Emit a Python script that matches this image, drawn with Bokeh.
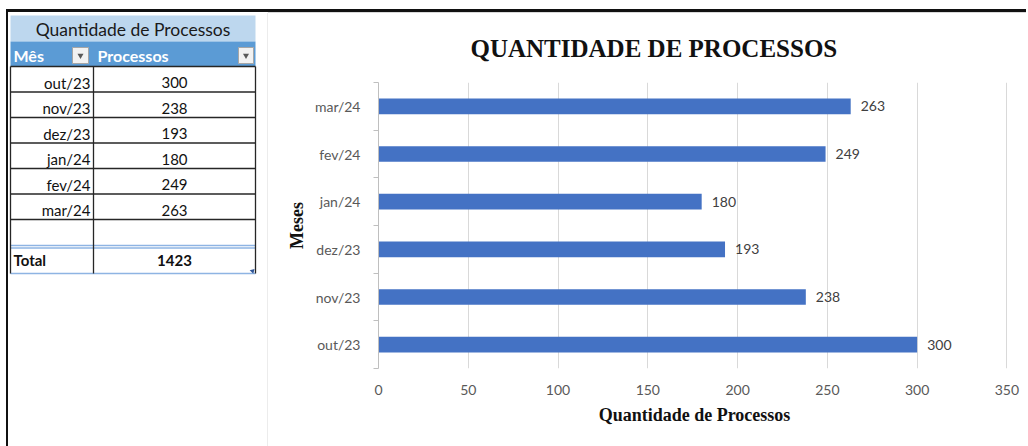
from bokeh.plotting import figure
from bokeh.models import Range1d, FixedTicker, ColumnDataSource
from bokeh.layouts import row
from bokeh.core.properties import value
from bokeh.embed import file_html
from bokeh.resources import INLINE

# ---- data ----
meses = ["out/23", "nov/23", "dez/23", "jan/24", "fev/24", "mar/24"]
processos = [300, 238, 193, 180, 249, 263]
titulo = "QUANTIDADE DE PROCESSOS"
titulo_tabela = "Quantidade de Processos"
cab_mes = "Mês"
cab_proc = "Processos"
rotulo_total = "Total"
eixo_x = "Quantidade de Processos"
eixo_y = "Meses"
ticks_x = [0, 50, 100, 150, 200, 250, 300, 350]

total = sum(processos)

# ---- table ----
tab = figure(width=260, height=434, x_range=Range1d(8, 268), y_range=Range1d(446, 12),
             x_axis_location=None, y_axis_location=None, min_border=0, title=None,
             outline_line_color=None, toolbar_location=None, output_backend="svg",
             sizing_mode="fixed")
tab.grid.visible = False

L, M, R = 10, 93, 255
row_h = 25.5
first_top = 66
n = len(meses)

tab.segment(x0=267.5, y0=12, x1=267.5, y1=446, line_color="#D9D9D9", line_width=1)

# title band and header
tab.quad(left=L, right=R, top=15, bottom=41, fill_color="#BDD7EE", line_color=None)
tab.quad(left=L, right=R, top=41, bottom=first_top, fill_color="#5B9BD5", line_color=None)
tab.text(x=[(L + R) / 2], y=[29], text=[titulo_tabela], text_align="center",
         text_baseline="middle", text_font=value("Lato"), text_font_size="17.5px",
         text_color="#1a1a1a")
tab.text(x=[L + 3, M + 4], y=[54.5, 54.5], text=[cab_mes, cab_proc], text_align="left",
         text_baseline="middle", text_font=value("Lato"), text_font_size="16px",
         text_font_style="bold", text_color="#FFFFFF")
# dropdown buttons
tab.quad(left=[72, 238], right=[88, 253], top=[47, 47], bottom=[63, 63],
         fill_color="#F2F2F2", line_color="#A6A6A6", line_width=1)
tab.scatter(x=[80, 245.5], y=[55, 55], marker="inverted_triangle", size=6,
            fill_color="#595959", line_color=None)

# data rows (+ one empty row before the total)
tops = [first_top + row_h * i for i in range(n + 2)]
src = ColumnDataSource(dict(m=meses, v=[str(x) for x in processos],
                            y=[t + 16 for t in tops[:n]]))
tab.text(x=M - 3, y="y", text="m", source=src, text_align="right", text_baseline="middle",
         text_font=value("Lato"), text_font_size="15px", text_color="#111111")
tab.text(x=(M + R) / 2, y="y", text="v", source=src, text_align="center",
         text_baseline="middle", text_font=value("Lato"), text_font_size="15px",
         text_color="#111111")

bottom_total = 273
total_top = tops[n + 1]
tab.segment(x0=L, x1=R, y0=tops[:-1], y1=tops[:-1], line_color="#262626", line_width=1.3)
tab.segment(x0=[L, L], x1=[R, R], y0=[total_top + 0.5, total_top + 3],
            y1=[total_top + 0.5, total_top + 3], line_color="#8EB4E3", line_width=1.3)
tab.segment(x0=L, x1=R, y0=bottom_total, y1=bottom_total, line_color="#8EB4E3", line_width=1.3)
tab.segment(x0=[L, M, R], x1=[L, M, R], y0=first_top, y1=bottom_total,
            line_color="#262626", line_width=1.3)
tab.scatter(x=[252], y=[270.5], marker="triangle", angle=-0.785, size=5,
            fill_color="#2F5597", line_color=None)
tab.text(x=[L + 3], y=[total_top + 15], text=[rotulo_total], text_align="left",
         text_baseline="middle", text_font=value("Lato"), text_font_size="15px",
         text_font_style="bold", text_color="#111111")
tab.text(x=[(M + R) / 2], y=[total_top + 15], text=[str(total)], text_align="center",
         text_baseline="middle", text_font=value("Lato"), text_font_size="15px",
         text_font_style="bold", text_color="#111111")

# ---- chart ----
pos = [i + 0.5 for i in range(n)]
csrc = ColumnDataSource(dict(pos=pos, v=processos, lbl=[str(x) for x in processos]))

p = figure(width=758, height=433, x_range=Range1d(0, 352), y_range=Range1d(0, n),
           min_border_left=110, min_border_right=16, min_border_top=65, min_border_bottom=78,
           outline_line_color=None, toolbar_location=None, output_backend="svg",
           sizing_mode="fixed", styles={"border-top": "1px solid #D9D9D9"})

for fig in (tab, p):
    if "frame_align" in fig.properties():
        fig.frame_align = False

p.hbar(y="pos", right="v", left=0, height=0.33, source=csrc,
       fill_color="#4472C4", line_color=None)
p.text(x="v", y="pos", text="lbl", source=csrc, x_offset=10, text_baseline="middle",
       text_font=value("Lato"), text_font_size="14px", text_color="#404040")

p.ygrid.visible = False
p.xgrid.ticker = FixedTicker(ticks=ticks_x)
p.xgrid.grid_line_color = "#D9D9D9"
p.xgrid.grid_line_width = 1

xa = p.xaxis[0]
xa.ticker = FixedTicker(ticks=ticks_x)
xa.axis_line_color = None
xa.major_tick_line_color = None
xa.minor_tick_line_color = None
xa.major_label_standoff = 10
xa.major_label_text_font = "Lato"
xa.major_label_text_font_size = "14px"
xa.major_label_text_color = "#595959"
xa.axis_label = eixo_x
xa.axis_label_text_font = "Liberation Serif"
xa.axis_label_text_font_size = "18px"
xa.axis_label_text_font_style = "bold"
xa.axis_label_text_color = "#111111"
xa.axis_label_standoff = 7

ya = p.yaxis[0]
ya.ticker = FixedTicker(ticks=pos, minor_ticks=list(range(n + 1)))
ya.major_label_overrides = {pp: m for pp, m in zip(pos, meses)}
ya.axis_line_color = "#BFBFBF"
ya.major_tick_line_color = None
ya.minor_tick_line_color = "#BFBFBF"
ya.minor_tick_out = 5
ya.minor_tick_in = 0
ya.major_label_standoff = 12
ya.major_label_text_font = "Lato"
ya.major_label_text_font_size = "14px"
ya.major_label_text_color = "#595959"
ya.axis_label = eixo_y
ya.axis_label_text_font = "Liberation Serif"
ya.axis_label_text_font_size = "18px"
ya.axis_label_text_font_style = "bold"
ya.axis_label_text_color = "#111111"
ya.axis_label_standoff = 5

p.title.text = titulo
p.title.align = "left"
p.title.offset = 92
p.title.text_font = "Liberation Serif"
p.title.text_font_size = "25px"
p.title.text_font_style = "bold"
p.title.text_color = "#111111"
p.title.vertical_align = "middle"
p.title.standoff = 40

layout = row(tab, p, spacing=0, sizing_mode="fixed",
             styles={"margin-top": "9px", "margin-left": "6px",
                     "border-top": "3px solid #111111", "border-left": "2px solid #111111"})
open("out.html", "w").write(file_html(layout, INLINE))
